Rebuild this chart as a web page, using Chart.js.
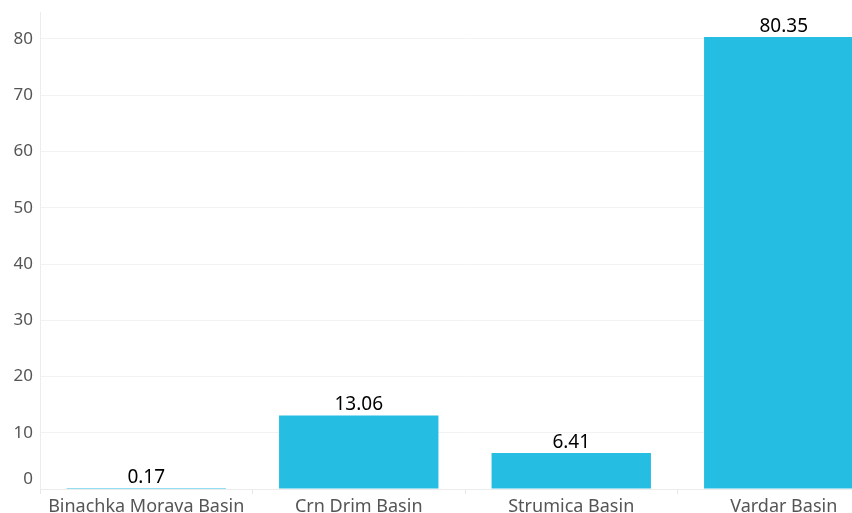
<!DOCTYPE html>
<html>
<head>
<meta charset="utf-8">
<script src="https://cdn.jsdelivr.net/npm/chart.js"></script>
<style>
  html, body { margin: 0; padding: 0; background: #fff; overflow: hidden; }
  #wrap { width: 890px; height: 513px; }
</style>
</head>
<body>
<div id="wrap"><canvas id="basinChart"></canvas></div>
<script>
const basins = ['Binachka Morava Basin', 'Crn Drim Basin', 'Strumica Basin', 'Vardar Basin'];
const shares = [0.17, 13.06, 6.41, 80.35];
const yTicks = [0, 10, 20, 30, 40, 50, 60, 70, 80];

const FONT = '"Noto Sans", "Open Sans", sans-serif';

// value labels above bars, and the zero tick nudged up like the original
const labelPlugin = {
  id: 'barLabels',
  afterDraw(chart) {
    const ctx = chart.ctx;
    const meta = chart.getDatasetMeta(0);
    ctx.save();
    ctx.font = '19px ' + FONT;
    ctx.fillStyle = '#000';
    ctx.textAlign = 'center';
    ctx.textBaseline = 'bottom';
    meta.data.forEach((bar, i) => {
      ctx.fillText(shares[i].toFixed(2), bar.x, bar.y - 1);
    });
    const y = chart.scales.y;
    ctx.font = '17px ' + FONT;
    ctx.fillStyle = '#555';
    ctx.textAlign = 'right';
    ctx.textBaseline = 'middle';
    ctx.fillText('0', y.right - 7, y.getPixelForValue(0) - 10);
    ctx.restore();
  }
};

new Chart(document.getElementById('basinChart'), {
  type: 'bar',
  data: {
    labels: basins,
    datasets: [{
      data: shares,
      backgroundColor: '#26BDE2',
      barPercentage: 0.75,
      categoryPercentage: 1.0
    }]
  },
  options: {
    responsive: true,
    maintainAspectRatio: false,
    animation: false,
    layout: { padding: { top: 12, left: 0, right: 0, bottom: 0 } },
    plugins: {
      legend: { display: false },
      tooltip: { enabled: false }
    },
    scales: {
      x: {
        grid: {
          offset: true,
          drawOnChartArea: false,
          color: '#e6e6e6',
          tickLength: 5
        },
        border: { color: '#ececec' },
        ticks: {
          color: '#555',
          font: { family: FONT, size: 18 },
          padding: 2,
          maxRotation: 0
        },
        afterFit(scale) { scale.height = 24; }
      },
      y: {
        min: 0,
        max: 84.8,
        afterBuildTicks(scale) {
          scale.ticks = yTicks.map(v => ({ value: v }));
        },
        grid: {
          color: '#f2f2f2',
          drawTicks: false
        },
        border: { color: '#ececec' },
        ticks: {
          color: '#555',
          font: { family: FONT, size: 17 },
          padding: 7,
          callback: v => (v === 0 ? '' : v)
        },
        afterFit(scale) {
          scale.width = 40;
          scale.paddingTop = 0;
          scale.paddingBottom = 0;
        }
      }
    }
  },
  plugins: [labelPlugin]
});
</script>
</body>
</html>
